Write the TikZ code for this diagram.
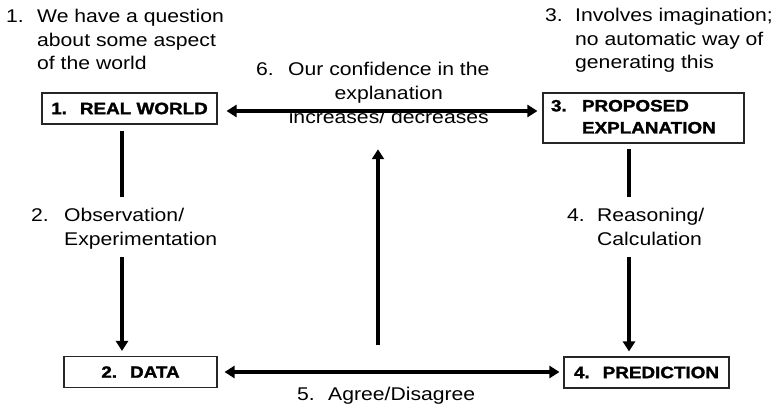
\documentclass[tikz,border=0pt]{standalone}
\usepackage{fontspec}
\setmainfont{Liberation Sans}[FakeStretch=1.15, BoldFeatures={FakeBold=1.6}]
\usetikzlibrary{arrows.meta}

\tikzset{
  boxnode/.style={draw=black!85, line width=1.1pt, fill=white, inner sep=0pt,
    font=\fontsize{16.4}{22}\selectfont\bfseries},
  note/.style={inner sep=0pt, anchor=base west,
    font=\fontsize{18.4}{23.5}\selectfont},
  shaft/.style={line width=3.4pt},
  link/.style={shaft, -{Triangle[length=10pt,width=12pt]}},
  twoway/.style={shaft,
    {Triangle[length=10pt,width=12pt]}-{Triangle[length=10pt,width=12pt]}},
}

\begin{document}
\begin{tikzpicture}[x=1pt,y=-1pt]
\useasboundingbox (0,0) rectangle (779,406);

% the four stages
\node[boxnode, minimum width=175pt, minimum height=31pt] (rw) at (129.5,108.5)
  {1.\hspace{13pt}REAL WORLD};
\node[boxnode, minimum width=153pt, minimum height=31pt] (dt) at (140.5,372)
  {2.\hspace{13pt}DATA};
\node[boxnode, minimum width=201pt, minimum height=50pt, text width=185pt,
      align=left] (pe) at (643.5,118)
  {\begin{tabular}{@{}l@{}l@{}}\makebox[31pt][l]{3.} & PROPOSED\\ & EXPLANATION\end{tabular}};
\node[boxnode, minimum width=165pt, minimum height=31pt] (pr) at (646.5,372.5)
  {4.\hspace{13pt}PREDICTION};

% step descriptions
\node[note] (q1) at (6,23)
  {\begin{tabular}[t]{@{}l@{}l@{}}\makebox[31pt][l]{1.} & We have a question\\
   & about some aspect\\ & of the world\end{tabular}};
\node[note] (q3) at (545,22)
  {\begin{tabular}[t]{@{}l@{}l@{}}\makebox[30pt][l]{3.} & Involves imagination;\\
   & no automatic way of\\ & generating this\end{tabular}};
\node[note] (obs) at (31,222)
  {\begin{tabular}[t]{@{}l@{}l@{}}\makebox[33pt][l]{2.} & Observation/\\
   & Experimentation\end{tabular}};
\node[note] (rea) at (567,222)
  {\begin{tabular}[t]{@{}l@{}l@{}}\makebox[30pt][l]{4.} & Reasoning/\\
   & Calculation\end{tabular}};
\node[note] (conf) at (256,76)
  {\begin{tabular}[t]{@{}l@{}c@{}}\makebox[32pt][l]{6.} & Our confidence in the\\
   & explanation\\[1pt] & increases/ decreases\end{tabular}};
\node[note] (agr) at (297,400) {\makebox[31pt][l]{5.}Agree/Disagree};

% connectors
\coordinate (lx) at (122,0);
\coordinate (rx) at (629,0);
\coordinate (mb) at (378,345);

\draw[twoway] ([xshift=9pt,yshift=-2.5pt]rw.east)
  -- ([xshift=-5pt,yshift=-2.5pt]rw.east -| pe.west);
\draw[twoway] ([xshift=7pt]dt.east) -- ([xshift=-4pt]dt.east -| pr.west);

\draw[shaft] ([yshift=-6pt]rw.south -| lx) -- ([yshift=8pt]obs.north -| lx);
\draw[link] ([yshift=-4pt]obs.south -| lx) -- ([yshift=5pt]dt.north -| lx);

\draw[shaft] ([yshift=-5pt]pe.south -| rx) -- ([yshift=8pt]rea.north -| rx);
\draw[link] ([yshift=-4pt]rea.south -| rx) -- ([yshift=5pt]pr.north -| rx);

\draw[link] (mb) -- ([yshift=-18pt]conf.south -| mb);
\end{tikzpicture}
\end{document}
